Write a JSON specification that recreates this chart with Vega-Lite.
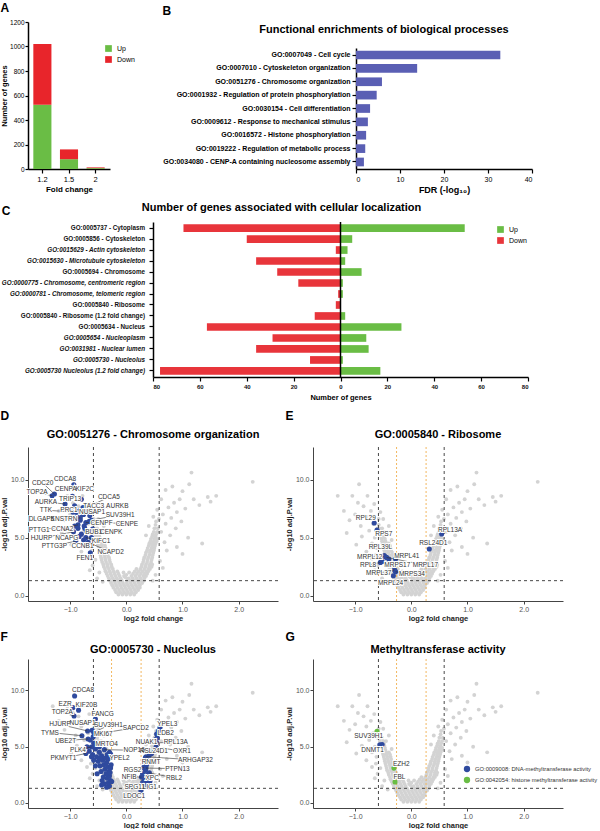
{
"$schema":"https://vega.github.io/schema/vega-lite/v6.json",
"background":"white",
"padding":{"left":0,"top":2,"right":0,"bottom":0},
"config":{"font":"Liberation Sans","view":{"stroke":null},"axis":{"grid":false}},
"datasets":{
"cdat":[
    {"term":"GO:0005737 - Cytoplasm","dir":"Down","genes":-67},{"term":"GO:0005737 - Cytoplasm","dir":"Up","genes":53},
    {"term":"GO:0005856 - Cytoskeleton","dir":"Down","genes":-40},{"term":"GO:0005856 - Cytoskeleton","dir":"Up","genes":5},
    {"term":"GO:0015629 - Actin cytoskeleton","dir":"Down","genes":-2},{"term":"GO:0015629 - Actin cytoskeleton","dir":"Up","genes":3},
    {"term":"GO:0015630 - Microtubule cytoskeleton","dir":"Down","genes":-36},{"term":"GO:0015630 - Microtubule cytoskeleton","dir":"Up","genes":2},
    {"term":"GO:0005694 - Chromosome","dir":"Down","genes":-27},{"term":"GO:0005694 - Chromosome","dir":"Up","genes":9},
    {"term":"GO:0000775 - Chromosome, centromeric region","dir":"Down","genes":-18},{"term":"GO:0000775 - Chromosome, centromeric region","dir":"Up","genes":1},
    {"term":"GO:0000781 - Chromosome, telomeric region","dir":"Down","genes":-1},{"term":"GO:0000781 - Chromosome, telomeric region","dir":"Up","genes":1},
    {"term":"GO:0005840 - Ribosome","dir":"Down","genes":-2},{"term":"GO:0005840 - Ribosome","dir":"Up","genes":0},
    {"term":"GO:0005840 - Ribosome (1.2 fold change)","dir":"Down","genes":-11},{"term":"GO:0005840 - Ribosome (1.2 fold change)","dir":"Up","genes":2},
    {"term":"GO:0005634 - Nucleus","dir":"Down","genes":-57},{"term":"GO:0005634 - Nucleus","dir":"Up","genes":26},
    {"term":"GO:0005654 - Nucleoplasm","dir":"Down","genes":-29},{"term":"GO:0005654 - Nucleoplasm","dir":"Up","genes":11},
    {"term":"GO:0031981 - Nuclear lumen","dir":"Down","genes":-36},{"term":"GO:0031981 - Nuclear lumen","dir":"Up","genes":12},
    {"term":"GO:0005730 - Nucleolus","dir":"Down","genes":-13},{"term":"GO:0005730 - Nucleolus","dir":"Up","genes":1},
    {"term":"GO:0005730 Nucleolus (1.2 fold change)","dir":"Down","genes":-77},{"term":"GO:0005730 Nucleolus (1.2 fold change)","dir":"Up","genes":17}],
"bg":[{"x":-0.14,"y":0.1},{"x":-0.07,"y":0.1},{"x":0,"y":0.1},{"x":0.07,"y":0.1},{"x":0.14,"y":0.1},
{"x":-0.18,"y":0.3},{"x":-0.11,"y":0.3},{"x":-0.04,"y":0.3},{"x":0.03,"y":0.3},{"x":0.1,"y":0.3},{"x":0.17,"y":0.3},
{"x":-0.2,"y":0.5},{"x":-0.13,"y":0.5},{"x":-0.06,"y":0.5},{"x":0.01,"y":0.5},{"x":0.08,"y":0.5},{"x":0.15,"y":0.5},{"x":0.21,"y":0.5},
{"x":-0.23,"y":0.7},{"x":-0.16,"y":0.7},{"x":-0.09,"y":0.7},{"x":-0.02,"y":0.7},{"x":0.05,"y":0.7},{"x":0.12,"y":0.7},{"x":0.19,"y":0.7},{"x":0.24,"y":0.7},
{"x":-0.25,"y":0.9},{"x":-0.18,"y":0.9},{"x":-0.11,"y":0.9},{"x":-0.04,"y":0.9},{"x":0.03,"y":0.9},{"x":0.1,"y":0.9},{"x":0.17,"y":0.9},{"x":0.24,"y":0.9},
{"x":-0.27,"y":1.1},{"x":-0.2,"y":1.1},{"x":-0.13,"y":1.1},{"x":-0.06,"y":1.1},{"x":0.01,"y":1.1},{"x":0.08,"y":1.1},{"x":0.15,"y":1.1},{"x":0.22,"y":1.1},{"x":0.28,"y":1.1},
{"x":-0.29,"y":1.3},{"x":-0.22,"y":1.3},{"x":-0.15,"y":1.3},{"x":-0.08,"y":1.3},{"x":0.06,"y":1.3},{"x":0.13,"y":1.3},{"x":0.2,"y":1.3},{"x":0.27,"y":1.3},{"x":0.31,"y":1.3},
{"x":-0.31,"y":1.5},{"x":-0.24,"y":1.5},{"x":-0.17,"y":1.5},{"x":-0.1,"y":1.5},{"x":0.04,"y":1.5},{"x":0.11,"y":1.5},{"x":0.18,"y":1.5},{"x":0.25,"y":1.5},{"x":0.32,"y":1.5},
{"x":-0.33,"y":1.7},{"x":-0.26,"y":1.7},{"x":-0.19,"y":1.7},{"x":-0.12,"y":1.7},{"x":-0.04,"y":1.7},{"x":0.09,"y":1.7},{"x":0.16,"y":1.7},{"x":0.23,"y":1.7},{"x":0.3,"y":1.7},{"x":0.35,"y":1.7},
{"x":-0.35,"y":1.9},{"x":-0.28,"y":1.9},{"x":-0.21,"y":1.9},{"x":-0.14,"y":1.9},{"x":0.12,"y":1.9},{"x":0.19,"y":1.9},{"x":0.26,"y":1.9},{"x":0.33,"y":1.9},{"x":0.37,"y":1.9},
{"x":-0.37,"y":2.1},{"x":-0.3,"y":2.1},{"x":-0.23,"y":2.1},{"x":-0.16,"y":2.1},{"x":0.15,"y":2.1},{"x":0.22,"y":2.1},{"x":0.29,"y":2.1},{"x":0.36,"y":2.1},{"x":0.39,"y":2.1},
{"x":-0.38,"y":2.3},{"x":-0.31,"y":2.3},{"x":-0.24,"y":2.3},{"x":0.18,"y":2.3},{"x":0.25,"y":2.3},{"x":0.32,"y":2.3},{"x":0.39,"y":2.3},{"x":0.42,"y":2.3},
{"x":0,"y":1.8},{"x":-0.05,"y":2.0},{"x":0.05,"y":2.0},{"x":0.02,"y":1.4},{"x":-0.02,"y":1.6},
{"x":-0.4,"y":2.5},{"x":-0.33,"y":2.5},{"x":-0.26,"y":2.5},
{"x":-0.41,"y":2.7},{"x":-0.34,"y":2.7},{"x":-0.27,"y":2.7},
{"x":-0.43,"y":2.9},{"x":-0.36,"y":2.9},{"x":-0.29,"y":2.9},
{"x":-0.44,"y":3.1},{"x":-0.37,"y":3.1},{"x":-0.3,"y":3.1},
{"x":-0.45,"y":3.3},{"x":-0.38,"y":3.3},{"x":-0.31,"y":3.3},
{"x":-0.46,"y":3.5},{"x":-0.39,"y":3.5},{"x":-0.33,"y":3.5},
{"x":-0.47,"y":3.7},{"x":-0.41,"y":3.7},{"x":-0.34,"y":3.7},
{"x":-0.48,"y":3.9},{"x":-0.42,"y":3.9},{"x":-0.36,"y":3.9},
{"x":-0.49,"y":4.1},{"x":-0.43,"y":4.1},{"x":-0.37,"y":4.1},
{"x":-0.5,"y":4.3},{"x":-0.44,"y":4.3},{"x":-0.38,"y":4.3},
{"x":-0.51,"y":4.5},{"x":-0.45,"y":4.5},{"x":-0.4,"y":4.5},
{"x":-0.52,"y":4.7},{"x":-0.46,"y":4.7},
{"x":-0.53,"y":4.9},{"x":-0.47,"y":4.9},
{"x":-0.54,"y":5.1},{"x":-0.48,"y":5.1},
{"x":-0.55,"y":5.3},{"x":-0.49,"y":5.3},
{"x":-0.56,"y":5.5},{"x":-0.5,"y":5.5},
{"x":-0.57,"y":5.8},{"x":-0.52,"y":5.8},
{"x":-0.58,"y":6.1},
{"x":0.27,"y":2.5},{"x":0.34,"y":2.5},{"x":0.41,"y":2.5},{"x":0.45,"y":2.5},
{"x":0.28,"y":2.7},{"x":0.35,"y":2.7},{"x":0.42,"y":2.7},{"x":0.46,"y":2.7},
{"x":0.3,"y":2.9},{"x":0.37,"y":2.9},{"x":0.44,"y":2.9},
{"x":0.31,"y":3.1},{"x":0.38,"y":3.1},{"x":0.45,"y":3.1},
{"x":0.32,"y":3.3},{"x":0.39,"y":3.3},{"x":0.46,"y":3.3},
{"x":0.34,"y":3.5},{"x":0.41,"y":3.5},{"x":0.47,"y":3.5},
{"x":0.35,"y":3.7},{"x":0.42,"y":3.7},{"x":0.48,"y":3.7},
{"x":0.37,"y":3.9},{"x":0.43,"y":3.9},{"x":0.49,"y":3.9},
{"x":0.38,"y":4.1},{"x":0.45,"y":4.1},{"x":0.5,"y":4.1},
{"x":0.4,"y":4.3},{"x":0.46,"y":4.3},{"x":0.51,"y":4.3},
{"x":0.41,"y":4.5},{"x":0.47,"y":4.5},{"x":0.52,"y":4.5},
{"x":0.43,"y":4.7},{"x":0.49,"y":4.7},{"x":0.54,"y":4.7},
{"x":0.44,"y":4.9},{"x":0.5,"y":4.9},{"x":0.55,"y":4.9},
{"x":0.46,"y":5.1},{"x":0.52,"y":5.1},
{"x":0.47,"y":5.3},{"x":0.53,"y":5.3},
{"x":0.49,"y":5.5},{"x":0.55,"y":5.5},
{"x":0.5,"y":5.8},{"x":0.56,"y":5.8},
{"x":0.52,"y":6.1},{"x":0.53,"y":6.4},
{"x":-0.62,"y":4.1},{"x":-0.65,"y":5.0},{"x":-0.7,"y":4.5},{"x":-0.68,"y":6.2},{"x":-0.75,"y":5.6},{"x":-0.8,"y":6.8},{"x":-0.72,"y":7.3},{"x":-0.85,"y":7.7},{"x":-0.9,"y":6.0},{"x":-0.95,"y":8.0},{"x":-1.0,"y":7.0},{"x":-1.05,"y":8.6},{"x":-1.1,"y":6.5},{"x":-0.93,"y":9.6},{"x":-1.31,"y":8.6},{"x":-1.2,"y":7.3},{"x":-0.6,"y":5.8},{"x":-0.58,"y":6.6},{"x":-0.66,"y":7.9},{"x":-0.78,"y":8.6},{"x":-0.63,"y":3.5},{"x":-0.55,"y":7.2},{"x":-0.5,"y":6.6},{"x":-1.15,"y":5.4},{"x":-0.88,"y":5.1},{"x":-0.7,"y":3.2},{"x":-0.98,"y":4.4},{"x":-0.8,"y":3.8},{"x":-0.45,"y":5.5},{"x":-0.4,"y":6.0},{"x":-0.35,"y":4.8},{"x":-0.6,"y":2.6},{"x":-0.55,"y":3.1},{"x":-0.65,"y":2.2},{"x":-0.48,"y":2.0},{"x":-0.52,"y":1.5},{"x":-0.42,"y":1.2},
{"x":0.58,"y":6.6},{"x":0.62,"y":5.5},{"x":0.65,"y":7.0},{"x":0.7,"y":6.2},{"x":0.75,"y":7.6},{"x":0.8,"y":6.7},{"x":0.85,"y":8.0},{"x":0.9,"y":7.2},{"x":0.95,"y":8.3},{"x":1.0,"y":9.0},{"x":1.05,"y":7.5},{"x":1.16,"y":10.6},{"x":1.12,"y":9.6},{"x":1.2,"y":8.3},{"x":1.3,"y":7.8},{"x":1.45,"y":8.5},{"x":1.6,"y":8.6},{"x":1.5,"y":8.1},{"x":2.25,"y":9.8},{"x":0.68,"y":4.6},{"x":0.72,"y":3.9},{"x":0.6,"y":3.0},{"x":0.78,"y":5.2},{"x":0.88,"y":5.8},{"x":0.98,"y":6.4},{"x":1.1,"y":5.0},{"x":1.35,"y":4.5},{"x":0.9,"y":4.2},{"x":1.0,"y":3.6},{"x":0.65,"y":2.4},{"x":0.55,"y":7.4},{"x":0.48,"y":6.8},{"x":0.62,"y":8.3},{"x":0.7,"y":9.1},{"x":0.82,"y":9.4},{"x":0.52,"y":1.8},{"x":0.47,"y":1.3},{"x":0.4,"y":6.0},{"x":0.35,"y":5.2}],
"dD":[{"g":"CDCA8","x":-0.935,"y":9.55,"lx":-1.09,"ly":10.03},
{"g":"CDC20","x":-1.28,"y":8.75,"lx":-1.49,"ly":9.71},
{"g":"TOP2A","x":-1.32,"y":8.6,"lx":-1.59,"ly":8.94},
{"g":"CENPA","x":-0.96,"y":8.55,"lx":-1.08,"ly":9.2},
{"g":"KIF2C","x":-0.8,"y":8.3,"lx":-0.74,"ly":9.2},
{"g":"AURKA","x":-1.09,"y":7.9,"lx":-1.43,"ly":8.05},
{"g":"TRIP13","x":-0.92,"y":7.75,"lx":-1.0,"ly":8.36},
{"g":"CDCA5","x":-0.66,"y":7.7,"lx":-0.31,"ly":8.48},
{"g":"TACC3","x":-0.72,"y":7.5,"lx":-0.58,"ly":7.76},
{"g":"AURKB","x":-0.68,"y":7.2,"lx":-0.16,"ly":7.76},
{"g":"TTK","x":-0.9,"y":7.2,"lx":-1.43,"ly":7.36},
{"g":"PRC1","x":-0.84,"y":7.3,"lx":-1.02,"ly":7.36},
{"g":"NUSAP1","x":-0.76,"y":7.0,"lx":-0.61,"ly":7.21},
{"g":"SUV39H1","x":-0.62,"y":6.5,"lx":-0.11,"ly":6.98},
{"g":"DLGAP5","x":-0.88,"y":6.8,"lx":-1.51,"ly":6.61},
{"g":"KNSTRN","x":-0.82,"y":6.7,"lx":-1.11,"ly":6.61},
{"g":"CENPF","x":-0.72,"y":6.3,"lx":-0.44,"ly":6.26},
{"g":"CENPE","x":-0.66,"y":6.4,"lx":0.01,"ly":6.18},
{"g":"PTTG1","x":-0.92,"y":6.0,"lx":-1.55,"ly":5.69},
{"g":"CCNA2","x":-0.86,"y":6.1,"lx":-1.14,"ly":5.75},
{"g":"BUB1","x":-0.74,"y":5.8,"lx":-0.58,"ly":5.49},
{"g":"CENPK","x":-0.6,"y":5.75,"lx":-0.27,"ly":5.49},
{"g":"HJURP","x":-0.94,"y":5.5,"lx":-1.51,"ly":4.97},
{"g":"NCAPG","x":-0.84,"y":5.1,"lx":-1.06,"ly":4.97},
{"g":"KIFC1","x":-0.72,"y":5.0,"lx":-0.45,"ly":4.74},
{"g":"PTTG3P","x":-0.9,"y":4.7,"lx":-1.28,"ly":4.31},
{"g":"CCNB1","x":-0.76,"y":4.8,"lx":-0.78,"ly":4.25},
{"g":"NCAPD2","x":-0.68,"y":4.6,"lx":-0.28,"ly":3.76},
{"g":"FEN1","x":-0.64,"y":3.7,"lx":-0.74,"ly":3.25},
{"x":-0.78,"y":7.0},{"x":-0.82,"y":6.5},{"x":-0.75,"y":6.0},{"x":-0.7,"y":5.5},{"x":-0.8,"y":5.3},{"x":-0.65,"y":6.9},{"x":-0.9,"y":6.6},{"x":-0.77,"y":7.6},{"x":-0.86,"y":5.8},{"x":-0.7,"y":4.3},{"x":-0.62,"y":5.0},{"x":-0.95,"y":7.2}],
"dE":[{"g":"RPL29","x":-0.66,"y":6.26,"lx":-0.81,"ly":6.67},
{"g":"RPS7","x":-0.61,"y":5.66,"lx":-0.49,"ly":5.32},
{"g":"RPL39L","x":-0.48,"y":3.45,"lx":-0.55,"ly":4.17},
{"g":"MRPL12","x":-0.49,"y":3.36,"lx":-0.74,"ly":3.36},
{"g":"MRPL41","x":-0.28,"y":3.16,"lx":-0.08,"ly":3.45},
{"g":"RPL8","x":-0.55,"y":2.87,"lx":-0.77,"ly":2.64},
{"g":"MRPS17","x":-0.4,"y":3.16,"lx":-0.25,"ly":2.64},
{"g":"MRPL17","x":-0.44,"y":3.3,"lx":0.25,"ly":2.64},
{"g":"MRPL37","x":-0.3,"y":2.24,"lx":-0.58,"ly":1.93},
{"g":"MRPS34","x":-0.28,"y":2.07,"lx":0.01,"ly":1.87},
{"g":"MRPL24","x":-0.32,"y":1.72,"lx":-0.37,"ly":1.09},
{"g":"RPL13A","x":0.54,"y":5.32,"lx":0.69,"ly":5.69},
{"g":"RSL24D1","x":0.32,"y":4.02,"lx":0.39,"ly":4.54},
{"x":-0.29,"y":2.15},{"x":-0.52,"y":2.95}],
"dF":[{"g":"CDCA8","x":-0.92,"y":9.51,"lx":-0.77,"ly":10.0},
{"g":"EZR","x":-0.95,"y":8.48,"lx":-1.09,"ly":8.76},
{"g":"KIF20B","x":-0.85,"y":8.25,"lx":-0.71,"ly":8.7},
{"g":"TOP2A","x":-0.93,"y":7.73,"lx":-1.14,"ly":8.05},
{"g":"FANCG","x":-0.55,"y":7.47,"lx":-0.42,"ly":7.9},
{"g":"HJURP","x":-0.69,"y":6.4,"lx":-1.18,"ly":6.98},
{"g":"NUSAP1","x":-0.61,"y":6.47,"lx":-0.78,"ly":7.07},
{"g":"SUV39H1","x":-0.58,"y":6.26,"lx":-0.32,"ly":6.9},
{"g":"SAPCD2","x":-0.54,"y":6.12,"lx":0.17,"ly":6.7},
{"g":"TYMS","x":-0.79,"y":5.98,"lx":-1.36,"ly":6.26},
{"g":"MKI67","x":-0.59,"y":5.89,"lx":-0.41,"ly":6.12},
{"g":"UBE2T","x":-0.68,"y":5.69,"lx":-1.08,"ly":5.55},
{"g":"MRTO4","x":-0.56,"y":5.11,"lx":-0.35,"ly":5.26},
{"g":"PLK4","x":-0.62,"y":4.97,"lx":-0.86,"ly":4.74},
{"g":"NOP16","x":-0.39,"y":4.74,"lx":0.14,"ly":4.68},
{"g":"PKMYT1","x":-0.72,"y":4.4,"lx":-1.12,"ly":3.97},
{"g":"YPEL2","x":-0.28,"y":4.34,"lx":-0.12,"ly":3.97},
{"g":"YPEL3","x":0.6,"y":6.7,"lx":0.73,"ly":6.98},
{"g":"LDB2","x":0.54,"y":6.12,"lx":0.7,"ly":6.26},
{"g":"NUAK1","x":0.52,"y":5.63,"lx":0.36,"ly":5.46},
{"g":"RPL13A","x":0.54,"y":5.34,"lx":0.88,"ly":5.4},
{"g":"OXR1","x":0.53,"y":4.97,"lx":0.99,"ly":4.6},
{"g":"RSL24D1","x":0.41,"y":4.25,"lx":0.49,"ly":4.6},
{"g":"ARHGAP32","x":0.35,"y":4.11,"lx":1.23,"ly":3.82},
{"g":"RNMT","x":0.34,"y":4.02,"lx":0.44,"ly":3.68},
{"g":"PTPN13","x":0.35,"y":3.1,"lx":0.91,"ly":3.05},
{"g":"RGS2","x":0.31,"y":3.16,"lx":0.11,"ly":2.96},
{"g":"NFIB","x":0.27,"y":2.3,"lx":0.05,"ly":2.3},
{"g":"XPC","x":0.38,"y":2.53,"lx":0.46,"ly":2.24},
{"g":"RBL2","x":0.41,"y":2.67,"lx":0.85,"ly":2.24},
{"g":"SPG11","x":0.29,"y":1.81,"lx":0.15,"ly":1.44},
{"g":"LIG1","x":0.35,"y":1.81,"lx":0.42,"ly":1.38},
{"g":"LDOC1","x":0.26,"y":1.09,"lx":0.14,"ly":0.66},
{"x":-0.3,"y":1.5},{"x":-0.32,"y":1.8},{"x":-0.28,"y":2.0},{"x":-0.34,"y":2.2},{"x":-0.3,"y":2.4},{"x":-0.36,"y":2.6},{"x":-0.31,"y":2.8},{"x":-0.38,"y":3.0},{"x":-0.33,"y":3.2},{"x":-0.4,"y":3.4},{"x":-0.35,"y":3.6},{"x":-0.42,"y":3.8},{"x":-0.37,"y":4.0},{"x":-0.44,"y":4.2},{"x":-0.3,"y":4.5},{"x":-0.27,"y":3.4},{"x":-0.29,"y":2.7},{"x":-0.26,"y":1.9},{"x":-0.41,"y":2.3},{"x":-0.45,"y":2.8},{"x":-0.47,"y":3.3},{"x":-0.5,"y":3.7},{"x":-0.53,"y":4.1},{"x":-0.55,"y":3.3},{"x":-0.52,"y":2.6},{"x":-0.6,"y":4.3},{"x":-0.58,"y":3.8},{"x":-0.62,"y":4.1},{"x":-0.66,"y":4.6},{"x":-0.48,"y":4.5},{"x":-0.39,"y":1.7},{"x":-0.35,"y":1.4},{"x":-0.43,"y":2.0},{"x":-0.46,"y":4.0},{"x":-0.34,"y":4.3},{"x":-0.28,"y":3.1},{"x":-0.32,"y":3.9},{"x":-0.44,"y":1.6},{"x":-0.58,"y":5.3},{"x":-0.64,"y":5.6},{"x":-0.7,"y":5.0},{"x":-0.48,"y":5.0},{"x":-0.55,"y":4.8},
{"x":0.3,"y":1.6},{"x":0.32,"y":2.0},{"x":0.29,"y":2.6},{"x":0.34,"y":2.9},{"x":0.36,"y":3.4},{"x":0.4,"y":3.8},{"x":0.42,"y":1.9},{"x":0.38,"y":1.4},{"x":0.45,"y":4.4},{"x":0.5,"y":4.7},{"x":0.55,"y":5.8},{"x":0.57,"y":6.4}],
"dG":[{"g":"SUV39H1","cat":"GO:0042054: histone methyltransferase activity","x":-0.61,"y":6.38,"lx":-0.76,"ly":5.98},
{"g":"DNMT1","cat":"GO:0009008: DNA-methyltransferase activity","x":-0.56,"y":5.17,"lx":-0.69,"ly":4.68},
{"cat":"GO:0009008: DNA-methyltransferase activity","x":-0.52,"y":5.2},
{"g":"EZH2","cat":"GO:0042054: histone methyltransferase activity","x":-0.31,"y":3.1,"lx":-0.18,"ly":3.5},
{"g":"FBL","cat":"GO:0042054: histone methyltransferase activity","x":-0.29,"y":1.87,"lx":-0.21,"ly":2.3}]
},
"spacing":8,
"resolve":{"scale":{"color":"independent"},"legend":{"color":"independent"}},
"vconcat":[
{"hconcat":[
 {"title":{"text":"A","anchor":"start","fontSize":12,"fontWeight":"bold","offset":4},
  "vconcat":[{
   "width":82,"height":147,
   "data":{"values":[{"fc":"1.2","dir":"Up","n":525},{"fc":"1.2","dir":"Down","n":495},{"fc":"1.5","dir":"Up","n":80},{"fc":"1.5","dir":"Down","n":80},{"fc":"2","dir":"Up","n":7},{"fc":"2","dir":"Down","n":6}]},
   "mark":{"type":"bar"},
   "encoding":{
    "x":{"field":"fc","type":"ordinal","sort":null,"title":"Fold change","scale":{"paddingInner":0.32,"paddingOuter":0.2},
     "axis":{"labelAngle":0,"labelFontSize":7.5,"labelColor":"#000","titleFontSize":8,"titleFontWeight":"bold","titleColor":"#000","domainColor":"#000","domainWidth":1.5,"tickColor":"#000","tickWidth":1.2,"tickSize":4,"titlePadding":3}},
    "y":{"field":"n","type":"quantitative","title":"Number of genes","scale":{"domain":[0,1200]},
     "axis":{"values":[0,200,400,600,800,1000,1200],"format":"d","labelFontSize":6.5,"labelColor":"#000","titleFontSize":7.5,"titleFontWeight":"bold","titleColor":"#000","domainColor":"#000","domainWidth":1.5,"tickColor":"#000","tickWidth":1.2,"tickSize":3,"labelPadding":1,"titlePadding":1}},
    "color":{"field":"dir","type":"nominal","scale":{"domain":["Up","Down"],"range":["#6abd45","#e8252b"]},
     "legend":{"title":null,"orient":"none","legendX":76,"legendY":22,"symbolType":"square","symbolSize":45,"labelFontSize":7,"rowPadding":3}},
    "order":{"field":"dir","sort":"descending"}
   }
  }]},
 {"title":{"text":"B","anchor":"start","fontSize":12,"fontWeight":"bold","offset":4},
  "vconcat":[{
   "width":176,"height":147,
   "title":{"text":"Functional enrichments of biological processes","fontSize":11,"fontWeight":"bold","offset":-13,"frame":"group","dx":-60},
   "data":{"values":[{"term":"GO:0007049 - Cell cycle","fdr":32.8},{"term":"GO:0007010 - Cytoskeleton organization","fdr":13.9},{"term":"GO:0051276 - Chromosome organization","fdr":5.9},{"term":"GO:0001932 - Regulation of protein phosphorylation","fdr":4.7},{"term":"GO:0030154 - Cell differentiation","fdr":3.2},{"term":"GO:0009612 - Response to mechanical stimulus","fdr":2.7},{"term":"GO:0016572 - Histone phosphorylation","fdr":2.3},{"term":"GO:0019222 - Regulation of metabolic process","fdr":2.1},{"term":"GO:0034080 - CENP-A containing nucleosome assembly","fdr":1.8}]},
   "mark":{"type":"bar","color":"#5a5fb4"},
   "encoding":{
    "y":{"field":"term","type":"nominal","sort":null,"title":null,"scale":{"range":[26,147],"paddingInner":0.35,"paddingOuter":0.2},
     "axis":{"labelFontSize":7,"labelFontWeight":"bold","labelColor":"#000","labelLimit":300,"domainColor":"#000","domainWidth":1.5,"tickColor":"#000","tickWidth":1.2,"tickSize":4}},
    "x":{"field":"fdr","type":"quantitative","title":"FDR (-log₁₀)","scale":{"domain":[0,40]},
     "axis":{"values":[0,10,20,30,40],"labelFontSize":7,"labelColor":"#000","titleFontSize":9,"titleFontWeight":"bold","titleColor":"#000","domainColor":"#000","domainWidth":1.5,"tickColor":"#000","tickWidth":1.2,"tickSize":4,"titlePadding":3}}
   }
  }]}
 ],"spacing":27,"resolve":{"scale":{"color":"independent"},"legend":{"color":"independent"}}},
{"title":{"text":"C","anchor":"start","fontSize":12,"fontWeight":"bold","offset":-16},
 "vconcat":[{
  "title":{"text":"Number of genes associated with cellular localization","fontSize":11,"fontWeight":"bold","offset":8,"dx":140},
  "spacing":0,
  "hconcat":[
   {"width":120,"height":155,
    "data":{"name":"cdat"},
    "transform":[{"filter":"datum.dir == 'Down'"}],
    "encoding":{
     "y":{"field":"term","type":"nominal","sort":null,"scale":{"domain":["GO:0005737 - Cytoplasm","GO:0005856 - Cytoskeleton","GO:0015629 - Actin cytoskeleton","GO:0015630 - Microtubule cytoskeleton","GO:0005694 - Chromosome","GO:0000775 - Chromosome, centromeric region","GO:0000781 - Chromosome, telomeric region","GO:0005840 - Ribosome","GO:0005840 - Ribosome (1.2 fold change)","GO:0005634 - Nucleus","GO:0005654 - Nucleoplasm","GO:0031981 - Nuclear lumen","GO:0005730 - Nucleolus","GO:0005730 Nucleolus (1.2 fold change)"],"paddingInner":0.3,"paddingOuter":0.2},"axis":null},
     "x":{"datum":1,"type":"quantitative","scale":{"domain":[0,1]},"axis":null},
     "text":{"field":"term"}
    },
    "layer":[
     {"transform":[{"filter":"indexof(datum.term,'Actin')>=0 || indexof(datum.term,'Microtubule')>=0 || indexof(datum.term,'centromeric')>=0 || indexof(datum.term,'telomeric')>=0 || indexof(datum.term,'Nucleoplasm')>=0 || indexof(datum.term,'lumen')>=0 || indexof(datum.term,'0005730')>=0"}],
      "mark":{"type":"text","align":"right","baseline":"middle","dx":-3,"fontSize":6.3,"fontWeight":"bold","fontStyle":"italic","color":"#111"}},
     {"transform":[{"filter":"!(indexof(datum.term,'Actin')>=0 || indexof(datum.term,'Microtubule')>=0 || indexof(datum.term,'centromeric')>=0 || indexof(datum.term,'telomeric')>=0 || indexof(datum.term,'Nucleoplasm')>=0 || indexof(datum.term,'lumen')>=0 || indexof(datum.term,'0005730')>=0)"}],
      "mark":{"type":"text","align":"right","baseline":"middle","dx":-3,"fontSize":6.3,"fontWeight":"bold","color":"#111"}}
    ]},
   {"width":375,"height":155,
    "layer":[
     {"data":{"name":"cdat"},
      "mark":{"type":"bar"},
      "encoding":{
       "y":{"field":"term","type":"nominal","sort":null,"title":null,"scale":{"domain":["GO:0005737 - Cytoplasm","GO:0005856 - Cytoskeleton","GO:0015629 - Actin cytoskeleton","GO:0015630 - Microtubule cytoskeleton","GO:0005694 - Chromosome","GO:0000775 - Chromosome, centromeric region","GO:0000781 - Chromosome, telomeric region","GO:0005840 - Ribosome","GO:0005840 - Ribosome (1.2 fold change)","GO:0005634 - Nucleus","GO:0005654 - Nucleoplasm","GO:0031981 - Nuclear lumen","GO:0005730 - Nucleolus","GO:0005730 Nucleolus (1.2 fold change)"],"paddingInner":0.3,"paddingOuter":0.2},
        "axis":{"labels":false,"domainColor":"#000","domainWidth":1.5,"tickColor":"#000","tickWidth":1.2,"tickSize":4}},
       "x":{"field":"genes","type":"quantitative","title":"Number of genes","scale":{"domain":[-80,80],"nice":false},
        "axis":{"values":[-80,-70,-60,-50,-40,-30,-20,-10,0,10,20,30,40,50,60,70,80],"labelExpr":"abs(datum.value)","labelFontSize":6,"labelFontWeight":"bold","labelColor":"#111","titleFontSize":7.5,"titleFontWeight":"bold","titleColor":"#000","domainColor":"#000","domainWidth":1.5,"tickColor":"#000","tickWidth":1.2,"tickSize":4,"titlePadding":4}},
       "color":{"field":"dir","type":"nominal","scale":{"domain":["Up","Down"],"range":["#6abd45","#e8353b"]},
        "legend":{"title":null,"orient":"none","legendX":468,"legendY":3,"symbolType":"square","symbolSize":45,"labelFontSize":7,"rowPadding":3}}
      }},
     {"data":{"values":[{}]},"mark":{"type":"rule","color":"#000","strokeWidth":1.5},"encoding":{"x":{"datum":0}}}
    ]}
  ]
 }]},
{"hconcat":[
 {"title":{"text":"D","anchor":"start","fontSize":12,"fontWeight":"bold","offset":6},
  "vconcat":[{
   "width":250,"height":154,
   "title":{"text":"GO:0051276 - Chromosome organization","fontSize":11,"fontWeight":"bold","offset":7},
   "layer":[
    {"data":{"name":"bg"},"mark":{"type":"circle","size":15,"color":"#d3d3d3","opacity":1},
     "encoding":{"x":{"field":"x","type":"quantitative","scale":{"domain":[-1.75,2.7],"nice":false,"zero":false},"axis":{"values":[-1,0,1,2],"title":"log2 fold change","domainColor":"#444","tickColor":"#444","labelColor":"#555","labelFontSize":7,"titleFontSize":7.5,"titleFontWeight":"bold","titleColor":"#222","tickSize":3,"labelPadding":1,"titlePadding":2}},
      "y":{"field":"y","type":"quantitative","scale":{"domain":[-0.45,12.8],"nice":false,"zero":false},"axis":{"values":[0,2.5,5,7.5,10,12.5],"format":".1f","title":"-log10 adj.P.val","domainColor":"#444","tickColor":"#444","labelColor":"#555","labelFontSize":7,"titleFontSize":7.5,"titleFontWeight":"bold","titleColor":"#222","tickSize":3,"labelPadding":1,"titlePadding":2}}}},
    {"data":{"values":[{"v":-0.585},{"v":0.585}]},"mark":{"type":"rule","strokeDash":[3,3],"color":"#333","strokeWidth":0.9},"encoding":{"x":{"field":"v","type":"quantitative"}}},
    {"data":{"values":[{"v":1.3}]},"mark":{"type":"rule","strokeDash":[3,3],"color":"#333","strokeWidth":0.9},"encoding":{"y":{"field":"v","type":"quantitative"}}},
    {"data":{"name":"dD"},"mark":{"type":"circle","size":26,"color":"#2f4a9e","opacity":1},"encoding":{"x":{"field":"x","type":"quantitative"},"y":{"field":"y","type":"quantitative"}}},
    {"data":{"name":"dD"},"transform":[{"filter":"isValid(datum.g) && (abs(datum.lx-datum.x)>0.18 || abs(datum.ly-datum.y)>0.9)"}],"mark":{"type":"rule","color":"#333","strokeWidth":0.6},"encoding":{"x":{"field":"x","type":"quantitative"},"y":{"field":"y","type":"quantitative"},"x2":{"field":"lx"},"y2":{"field":"ly"}}},
    {"data":{"name":"dD"},"transform":[{"filter":"isValid(datum.g)"}],"mark":{"type":"text","fontSize":6.5,"stroke":"#fff","strokeWidth":2,"color":"#fff"},"encoding":{"x":{"field":"lx","type":"quantitative"},"y":{"field":"ly","type":"quantitative"},"text":{"field":"g"}}},
    {"data":{"name":"dD"},"transform":[{"filter":"isValid(datum.g)"}],"mark":{"type":"text","fontSize":6.5,"color":"#333"},"encoding":{"x":{"field":"lx","type":"quantitative"},"y":{"field":"ly","type":"quantitative"},"text":{"field":"g"}}}
   ]
  }]},
 {"title":{"text":"E","anchor":"start","fontSize":12,"fontWeight":"bold","offset":6},
  "vconcat":[{
   "width":250,"height":154,
   "title":{"text":"GO:0005840 - Ribosome","fontSize":11,"fontWeight":"bold","offset":7},
   "layer":[
    {"data":{"name":"bg"},"mark":{"type":"circle","size":15,"color":"#d3d3d3","opacity":1},
     "encoding":{"x":{"field":"x","type":"quantitative","scale":{"domain":[-1.75,2.7],"nice":false,"zero":false},"axis":{"values":[-1,0,1,2],"title":"log2 fold change","domainColor":"#444","tickColor":"#444","labelColor":"#555","labelFontSize":7,"titleFontSize":7.5,"titleFontWeight":"bold","titleColor":"#222","tickSize":3,"labelPadding":1,"titlePadding":2}},
      "y":{"field":"y","type":"quantitative","scale":{"domain":[-0.45,12.8],"nice":false,"zero":false},"axis":{"values":[0,2.5,5,7.5,10,12.5],"format":".1f","title":"-log10 adj.P.val","domainColor":"#444","tickColor":"#444","labelColor":"#555","labelFontSize":7,"titleFontSize":7.5,"titleFontWeight":"bold","titleColor":"#222","tickSize":3,"labelPadding":1,"titlePadding":2}}}},
    {"data":{"values":[{"v":-0.263},{"v":0.263}]},"mark":{"type":"rule","strokeDash":[2,2],"color":"#f0b050","strokeWidth":0.9},"encoding":{"x":{"field":"v","type":"quantitative"}}},
    {"data":{"values":[{"v":-0.585},{"v":0.585}]},"mark":{"type":"rule","strokeDash":[3,3],"color":"#333","strokeWidth":0.9},"encoding":{"x":{"field":"v","type":"quantitative"}}},
    {"data":{"values":[{"v":1.3}]},"mark":{"type":"rule","strokeDash":[3,3],"color":"#333","strokeWidth":0.9},"encoding":{"y":{"field":"v","type":"quantitative"}}},
    {"data":{"name":"dE"},"mark":{"type":"circle","size":26,"color":"#2f4a9e","opacity":1},"encoding":{"x":{"field":"x","type":"quantitative"},"y":{"field":"y","type":"quantitative"}}},
    {"data":{"name":"dE"},"transform":[{"filter":"isValid(datum.g) && (abs(datum.lx-datum.x)>0.18 || abs(datum.ly-datum.y)>0.9)"}],"mark":{"type":"rule","color":"#333","strokeWidth":0.6},"encoding":{"x":{"field":"x","type":"quantitative"},"y":{"field":"y","type":"quantitative"},"x2":{"field":"lx"},"y2":{"field":"ly"}}},
    {"data":{"name":"dE"},"transform":[{"filter":"isValid(datum.g)"}],"mark":{"type":"text","fontSize":6.5,"stroke":"#fff","strokeWidth":2,"color":"#fff"},"encoding":{"x":{"field":"lx","type":"quantitative"},"y":{"field":"ly","type":"quantitative"},"text":{"field":"g"}}},
    {"data":{"name":"dE"},"transform":[{"filter":"isValid(datum.g)"}],"mark":{"type":"text","fontSize":6.5,"color":"#333"},"encoding":{"x":{"field":"lx","type":"quantitative"},"y":{"field":"ly","type":"quantitative"},"text":{"field":"g"}}}
   ]
  }]}
 ],"spacing":6},
{"hconcat":[
 {"title":{"text":"F","anchor":"start","fontSize":12,"fontWeight":"bold","offset":0},
  "vconcat":[{
   "width":250,"height":149,
   "title":{"text":"GO:0005730 - Nucleolus","fontSize":11,"fontWeight":"bold","offset":4},
   "layer":[
    {"data":{"name":"bg"},"mark":{"type":"circle","size":15,"color":"#d3d3d3","opacity":1},
     "encoding":{"x":{"field":"x","type":"quantitative","scale":{"domain":[-1.75,2.7],"nice":false,"zero":false},"axis":{"values":[-1,0,1,2],"title":"log2 fold change","domainColor":"#444","tickColor":"#444","labelColor":"#555","labelFontSize":7,"titleFontSize":7.5,"titleFontWeight":"bold","titleColor":"#222","tickSize":3,"labelPadding":1,"titlePadding":2}},
      "y":{"field":"y","type":"quantitative","scale":{"domain":[-0.45,12.8],"nice":false,"zero":false},"axis":{"values":[0,2.5,5,7.5,10,12.5],"format":".1f","title":"-log10 adj.P.val","domainColor":"#444","tickColor":"#444","labelColor":"#555","labelFontSize":7,"titleFontSize":7.5,"titleFontWeight":"bold","titleColor":"#222","tickSize":3,"labelPadding":1,"titlePadding":2}}}},
    {"data":{"values":[{"v":-0.263},{"v":0.263}]},"mark":{"type":"rule","strokeDash":[2,2],"color":"#f0b050","strokeWidth":0.9},"encoding":{"x":{"field":"v","type":"quantitative"}}},
    {"data":{"values":[{"v":-0.585},{"v":0.585}]},"mark":{"type":"rule","strokeDash":[3,3],"color":"#333","strokeWidth":0.9},"encoding":{"x":{"field":"v","type":"quantitative"}}},
    {"data":{"values":[{"v":1.3}]},"mark":{"type":"rule","strokeDash":[3,3],"color":"#333","strokeWidth":0.9},"encoding":{"y":{"field":"v","type":"quantitative"}}},
    {"data":{"name":"dF"},"mark":{"type":"circle","size":26,"color":"#2f4a9e","opacity":1},"encoding":{"x":{"field":"x","type":"quantitative"},"y":{"field":"y","type":"quantitative"}}},
    {"data":{"name":"dF"},"transform":[{"filter":"isValid(datum.g) && (abs(datum.lx-datum.x)>0.18 || abs(datum.ly-datum.y)>0.9)"}],"mark":{"type":"rule","color":"#333","strokeWidth":0.6},"encoding":{"x":{"field":"x","type":"quantitative"},"y":{"field":"y","type":"quantitative"},"x2":{"field":"lx"},"y2":{"field":"ly"}}},
    {"data":{"name":"dF"},"transform":[{"filter":"isValid(datum.g)"}],"mark":{"type":"text","fontSize":6.5,"stroke":"#fff","strokeWidth":2,"color":"#fff"},"encoding":{"x":{"field":"lx","type":"quantitative"},"y":{"field":"ly","type":"quantitative"},"text":{"field":"g"}}},
    {"data":{"name":"dF"},"transform":[{"filter":"isValid(datum.g)"}],"mark":{"type":"text","fontSize":6.5,"color":"#333"},"encoding":{"x":{"field":"lx","type":"quantitative"},"y":{"field":"ly","type":"quantitative"},"text":{"field":"g"}}}
   ]
  }]},
 {"title":{"text":"G","anchor":"start","fontSize":12,"fontWeight":"bold","offset":0},
  "vconcat":[{
   "width":250,"height":149,
   "title":{"text":"Methyltransferase activity","fontSize":11,"fontWeight":"bold","offset":4},
   "layer":[
    {"data":{"name":"bg"},"mark":{"type":"circle","size":15,"color":"#d3d3d3","opacity":1},
     "encoding":{"x":{"field":"x","type":"quantitative","scale":{"domain":[-1.75,2.7],"nice":false,"zero":false},"axis":{"values":[-1,0,1,2],"title":"log2 fold change","domainColor":"#444","tickColor":"#444","labelColor":"#555","labelFontSize":7,"titleFontSize":7.5,"titleFontWeight":"bold","titleColor":"#222","tickSize":3,"labelPadding":1,"titlePadding":2}},
      "y":{"field":"y","type":"quantitative","scale":{"domain":[-0.45,12.8],"nice":false,"zero":false},"axis":{"values":[0,2.5,5,7.5,10,12.5],"format":".1f","title":"-log10 adj.P.val","domainColor":"#444","tickColor":"#444","labelColor":"#555","labelFontSize":7,"titleFontSize":7.5,"titleFontWeight":"bold","titleColor":"#222","tickSize":3,"labelPadding":1,"titlePadding":2}}}},
    {"data":{"values":[{"v":-0.263},{"v":0.263}]},"mark":{"type":"rule","strokeDash":[2,2],"color":"#f0b050","strokeWidth":0.9},"encoding":{"x":{"field":"v","type":"quantitative"}}},
    {"data":{"values":[{"v":-0.585},{"v":0.585}]},"mark":{"type":"rule","strokeDash":[3,3],"color":"#333","strokeWidth":0.9},"encoding":{"x":{"field":"v","type":"quantitative"}}},
    {"data":{"values":[{"v":1.3}]},"mark":{"type":"rule","strokeDash":[3,3],"color":"#333","strokeWidth":0.9},"encoding":{"y":{"field":"v","type":"quantitative"}}},
    {"data":{"name":"dG"},"mark":{"type":"circle","size":26,"opacity":1},"encoding":{"x":{"field":"x","type":"quantitative"},"y":{"field":"y","type":"quantitative"},
     "color":{"field":"cat","type":"nominal","scale":{"domain":["GO:0009008: DNA-methyltransferase activity","GO:0042054: histone methyltransferase activity"],"range":["#2f4a9e","#6abd45"]},
      "legend":{"title":null,"orient":"none","legendX":150,"legendY":106,"symbolType":"circle","symbolSize":40,"labelFontSize":5.8,"labelColor":"#333","labelLimit":300,"rowPadding":3}}}},
    {"data":{"name":"dG"},"transform":[{"filter":"isValid(datum.g) && (abs(datum.lx-datum.x)>0.18 || abs(datum.ly-datum.y)>0.9)"}],"mark":{"type":"rule","color":"#333","strokeWidth":0.6},"encoding":{"x":{"field":"x","type":"quantitative"},"y":{"field":"y","type":"quantitative"},"x2":{"field":"lx"},"y2":{"field":"ly"}}},
    {"data":{"name":"dG"},"transform":[{"filter":"isValid(datum.g)"}],"mark":{"type":"text","fontSize":6.5,"stroke":"#fff","strokeWidth":2,"color":"#fff"},"encoding":{"x":{"field":"lx","type":"quantitative"},"y":{"field":"ly","type":"quantitative"},"text":{"field":"g"}}},
    {"data":{"name":"dG"},"transform":[{"filter":"isValid(datum.g)"}],"mark":{"type":"text","fontSize":6.5,"color":"#333"},"encoding":{"x":{"field":"lx","type":"quantitative"},"y":{"field":"ly","type":"quantitative"},"text":{"field":"g"}}}
   ]
  }]}
 ],"spacing":6,"resolve":{"scale":{"color":"independent"},"legend":{"color":"independent"}}}
]
}
